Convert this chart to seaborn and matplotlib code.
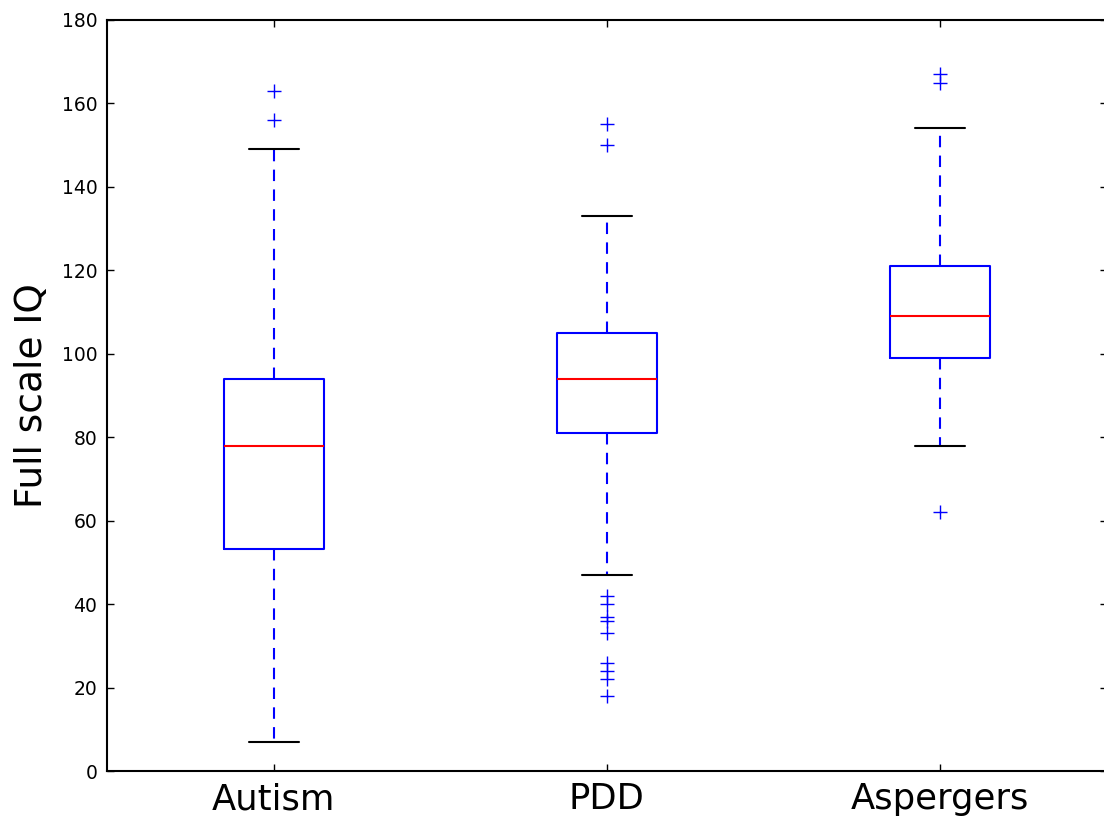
import numpy as np
import pandas as pd
import matplotlib
matplotlib.use("Agg")
import matplotlib.pyplot as plt
import seaborn as sns

# ---- data (box summary values) ----
groups = ["Autism", "PDD", "Aspergers"]
whisker_low = [7, 47, 78]
quartile_1 = [53.2, 81, 99]
median = [78, 94, 109]
quartile_3 = [94, 105, 121]
whisker_high = [149, 133, 154]
outliers_low = [[], [18, 22, 24, 26, 33, 36, 37, 40, 42], [62]]
outliers_high = [[156, 163], [150, 155], [165, 167]]

# Build sample sets that reproduce the summary statistics exactly
rows = []
for g, lo, a, m, b, hi, ol, oh in zip(groups, whisker_low, quartile_1, median,
                                       quartile_3, whisker_high, outliers_low, outliers_high):
    vals = list(ol) + [lo] + [a] * 20 + [m] * 20 + [b] * 20 + [hi] + list(oh)
    rows += [(g, v) for v in vals]
df = pd.DataFrame(rows, columns=["group", "iq"])

sns.set_style("white")
plt.rcParams.update({
    "xtick.direction": "in", "ytick.direction": "in",
    "xtick.top": True, "ytick.right": True,
    "xtick.bottom": True, "ytick.left": True,
    "xtick.major.size": 5, "ytick.major.size": 5,
    "xtick.major.width": 1, "ytick.major.width": 1,
    "xtick.color": "black", "ytick.color": "black",
    "xtick.labelcolor": "black", "ytick.labelcolor": "black",
    "text.color": "black", "axes.labelcolor": "black",
    "axes.edgecolor": "black", "axes.linewidth": 1.5,
})
plt.rcParams["font.family"] = ["DejaVu Sans"]

fig = plt.figure(figsize=(11.04, 8.22), dpi=100)
ax = fig.add_axes([107 / 1104, 51 / 822, 999.5 / 1104, 751 / 822])

sns.boxplot(data=df, x="group", y="iq", order=groups, ax=ax, width=0.3,
            fill=False, color="blue", whis=1.5,
            boxprops=dict(color="blue", linewidth=1.5),
            medianprops=dict(color="red", linewidth=1.5),
            whiskerprops=dict(color="blue", linewidth=1.5, linestyle=(0, (5.5, 4))),
            capprops=dict(color="black", linewidth=1.5),
            flierprops=dict(marker="+", markeredgecolor="blue", markerfacecolor="blue",
                            markersize=10, markeredgewidth=1.0, linestyle="none"))

ax.set_xlim(-0.5, 2.5)
ax.set_ylim(0, 180)
ax.set_yticks(np.arange(0, 181, 20))
ax.set_xlabel("")
ax.set_ylabel("Full scale IQ", fontsize=27, labelpad=8, color="black")
ax.tick_params(axis="x", labelsize=25.5, pad=8)
ax.tick_params(axis="y", labelsize=13.5, pad=7)
for s in ax.spines.values():
    s.set_visible(True)
    s.set_color("black")

fig.savefig("out.png", dpi=100)
